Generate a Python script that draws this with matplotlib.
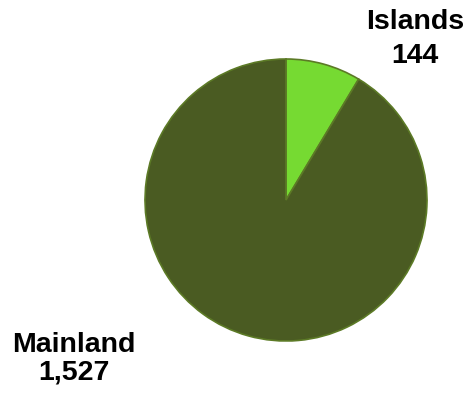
import matplotlib
matplotlib.use('Agg')
import matplotlib.pyplot as plt

regions = ['Islands', 'Mainland']
counts = [144, 1527]
colors = ['#76da32', '#4a5b22']

W, H = 469, 393
fig = plt.figure(figsize=(W / 100, H / 100), dpi=100)
ax = fig.add_axes([0, 0, 1, 1])

# islands slice starts at 12 o'clock and runs clockwise
ax.pie(counts, colors=colors, startangle=90, counterclock=False,
       center=(286, 193), radius=141, frame=True,
       wedgeprops=dict(edgecolor='#5c7a26', linewidth=1.2))
ax.set_xlim(0, W)
ax.set_ylim(0, H)
ax.set_aspect('equal')
ax.axis('off')

font = dict(family=['Liberation Sans', 'DejaVu Sans'], fontsize=20.5,
            fontweight='bold', ha='center', va='baseline', color='black')
ax.text(415, 364, regions[0], **font)
ax.text(415, 330, f'{counts[0]:,}', **font)
ax.text(74, 41, regions[1], **font)
ax.text(74, 13, f'{counts[1]:,}', **font)

fig.savefig('out.png', dpi=100)
